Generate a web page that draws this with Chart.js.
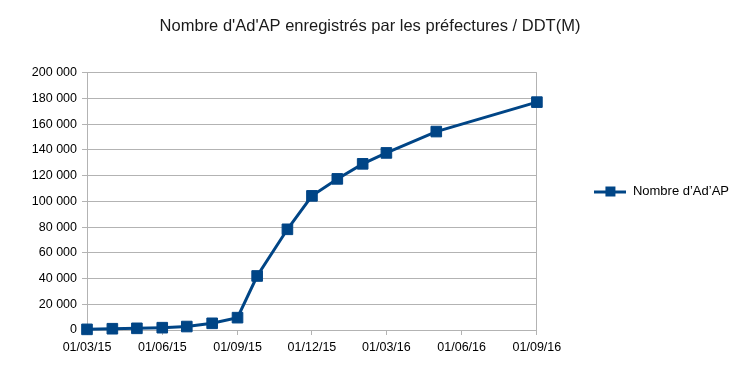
<!DOCTYPE html>
<html>
<head>
<meta charset="utf-8">
<script src="https://cdn.jsdelivr.net/npm/chart.js@4.4.1/dist/chart.umd.min.js"></script>
<style>
  html, body { margin: 0; padding: 0; background: #ffffff; }
  #wrap { width: 742px; height: 379px; }
</style>
</head>
<body>
<div id="wrap"><canvas id="c" width="742" height="379"></canvas></div>
<script>
// ---- data ----
const chartTitle = "Nombre d'Ad'AP enregistrés par les préfectures / DDT(M)";
const seriesName = "Nombre d’Ad’AP";
const dates = ['2015-03-01','2015-04-01','2015-05-01','2015-06-01','2015-07-01','2015-08-01','2015-09-01','2015-09-25','2015-11-01','2015-12-01','2016-01-01','2016-02-01','2016-03-01','2016-05-01','2016-09-01'];
const values = [500, 1000, 1300, 1800, 2700, 5200, 9600, 42000, 78300, 104300, 117500, 129200, 137700, 154300, 177200];
const xTickDates = ['2015-03-01','2015-06-01','2015-09-01','2015-12-01','2016-03-01','2016-06-01','2016-09-01'];
const yMin = 0, yMax = 200000, yStep = 20000;

// ---- helpers ----
function toTime(s) { const p = s.split('-').map(Number); return Date.UTC(p[0], p[1] - 1, p[2]); }
function fmtDate(t) {
  const d = new Date(t);
  const dd = String(d.getUTCDate()).padStart(2, '0');
  const mm = String(d.getUTCMonth() + 1).padStart(2, '0');
  const yy = String(d.getUTCFullYear()).slice(2);
  return dd + '/' + mm + '/' + yy;
}
function fmtNum(v) { return String(Math.round(v)).replace(/\B(?=(\d{3})+(?!\d))/g, ' '); }

const BLUE = '#004586';
const GRID = '#b3b3b3';
const xTicks = xTickDates.map(toTime);

// legend symbol: line with a square marker
const sym = document.createElement('canvas');
sym.width = 32; sym.height = 12;
(function () {
  const g = sym.getContext('2d');
  g.fillStyle = BLUE;
  g.fillRect(0, 5, 32, 3);
  g.fillRect(11, 1, 10, 10);
})();

Chart.defaults.font.family = '"Liberation Sans", Arial, sans-serif';
Chart.defaults.color = '#000000';

new Chart(document.getElementById('c'), {
  type: 'line',
  data: {
    datasets: [{
      label: seriesName,
      data: dates.map((d, i) => ({ x: toTime(d), y: values[i] })),
      borderColor: BLUE,
      backgroundColor: BLUE,
      borderWidth: 3,
      tension: 0,
      clip: false,
      pointStyle: 'rect',
      pointRadius: 7.5,
      pointHoverRadius: 7.5,
      pointBorderWidth: 1,
      pointBorderColor: BLUE,
      pointBackgroundColor: BLUE
    }]
  },
  options: {
    responsive: false,
    animation: false,
    events: [],
    layout: { padding: { left: 1, right: 3, top: 4, bottom: 0 } },
    plugins: {
      title: {
        display: true,
        text: chartTitle,
        color: '#1a1a1a',
        font: { size: 16.5, weight: 'normal' },
        padding: { top: 13, bottom: 36 }
      },
      legend: {
        position: 'right',
        maxWidth: 400,
        labels: {
          usePointStyle: true,
          pointStyleWidth: 32,
          generateLabels: (chart) => [{
            text: seriesName,
            pointStyle: sym,
            fillStyle: BLUE,
            strokeStyle: BLUE,
            lineWidth: 0,
            hidden: false,
            datasetIndex: 0
          }],
          font: { size: 13 },
          color: '#000000',
          padding: 57.5
        }
      },
      tooltip: { enabled: false }
    },
    scales: {
      x: {
        type: 'linear',
        min: xTicks[0],
        max: xTicks[xTicks.length - 1],
        afterBuildTicks: (scale) => { scale.ticks = xTicks.map(v => ({ value: v })); },
        afterFit: (scale) => { scale.height = 49; },
        ticks: {
          callback: (v) => fmtDate(v),
          font: { size: 12.5 },
          color: '#000000',
          maxRotation: 0,
          autoSkip: false,
          padding: 5
        },
        grid: {
          color: (ctx) => (ctx.index === xTicks.length - 1 ? GRID : 'rgba(0,0,0,0)'),
          tickColor: GRID,
          tickLength: 5,
          lineWidth: 1
        },
        border: { display: true, color: GRID }
      },
      y: {
        min: yMin,
        max: yMax,
        afterFit: (scale) => { scale.width = 86; },
        ticks: {
          stepSize: yStep,
          callback: (v) => fmtNum(v),
          font: { size: 12.5 },
          color: '#000000',
          padding: 5
        },
        grid: { color: GRID, tickColor: GRID, tickLength: 5, lineWidth: 1 },
        border: { display: true, color: GRID }
      }
    }
  }
});
</script>
</body>
</html>
